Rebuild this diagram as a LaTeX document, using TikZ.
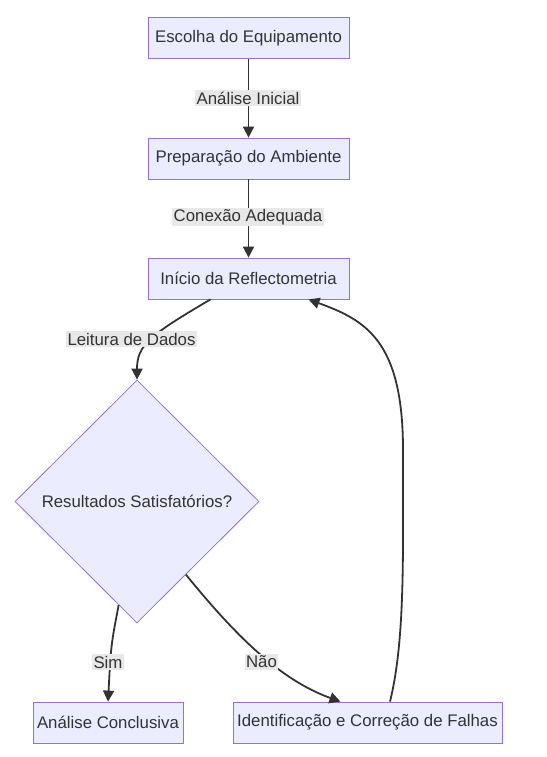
\documentclass[tikz,border=0pt]{standalone}
\usepackage{fontspec}
\setmainfont{Liberation Sans}
\usepackage{tikz}
\usetikzlibrary{shapes.geometric,arrows.meta,calc}
\definecolor{boxfill}{HTML}{ECECFF}
\definecolor{boxline}{HTML}{9370DB}
\definecolor{ink}{HTML}{333333}
\definecolor{lblfill}{HTML}{E8E8E8}

\begin{document}
\begin{tikzpicture}[x=1pt, y=-1pt,
  box/.style = {draw=boxline, fill=boxfill, line width=.8pt, inner sep=0pt,
                minimum height=41pt, text=ink, font=\fontsize{16.8}{19}\selectfont},
  choice/.style = {diamond, draw=boxline, fill=boxfill, line width=.8pt, inner sep=0pt,
                minimum width=244pt, minimum height=243pt, text=ink,
                font=\fontsize{16.8}{19}\selectfont},
  lbl/.style = {fill=lblfill, inner sep=1.5pt, text=ink, font=\fontsize{16.8}{19}\selectfont},
  flow/.style = {draw=ink, line width=1.8pt, -{Triangle[length=11pt,width=11pt]}}]
\useasboundingbox (0,0) rectangle (546,757);
\node [box, minimum width=201pt] (esc) at (248.5,38) {Escolha do Equipamento};
\node [box, minimum width=201pt] (prep) at (248.5,158.5) {Preparação do Ambiente};
\node [box, minimum width=201pt] (ini) at (248.5,278.5) {Início da Reflectometria};
\node [choice] (res) at (137,501.5) {Resultados Satisfatórios?};
\node [box, minimum width=150pt] (conc) at (108,722.5) {Análise Conclusiva};
\node [box, minimum width=269pt] (falha) at (367.5,722.5) {Identificação e Correção de Falhas};
% connectors
\draw [flow] (esc) -- (prep);
\draw [flow] (prep) -- (ini);
\draw [flow] ($(ini.south)+(-38,0)$) .. controls (150,335) and (137,345) .. (res.north);
\draw [flow] ($(res.south)!0.15!(res.west)$) .. controls (111,645) .. (conc.north);
\draw [flow] ($(res.east)!0.6!(res.south)$) .. controls (235,635) and (280,680) .. ($(falha.north)+(-27,0)$);
\draw [flow] ($(falha.north)+(22.5,0)$) .. controls (405,640) and (403,560) .. (403,450)
  .. controls (403,340) and (365,320) .. ($(ini.south)+(60,0)$);
% edge labels
\node [lbl] (l1) at (248,98) {Análise Inicial};
\node [lbl] (l2) at (248,217) {Conexão Adequada};
\node [lbl] (l3) at (131.5,339) {Leitura de Dados};
\node [lbl] (l4) at (108,662) {Sim};
\node [lbl] (l5) at (261.5,662) {Não};
\end{tikzpicture}
\end{document}
